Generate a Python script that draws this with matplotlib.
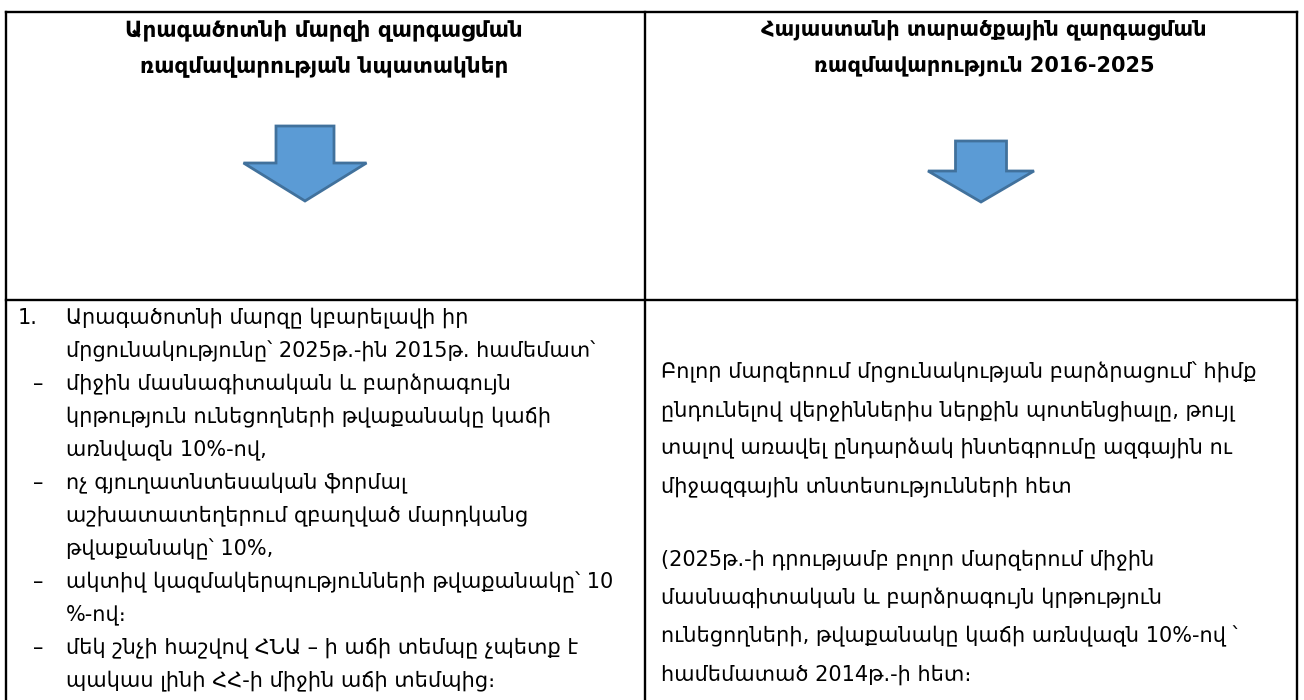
import matplotlib
matplotlib.use("Agg")
import matplotlib.pyplot as plt
from matplotlib.patches import FancyArrow

plt.rcParams['font.family'] = ['DejaVu Sans']

# ---- content ----
left_header = ["Արագածոտնի մարզի զարգացման", "ռազմավարության նպատակներ"]
right_header = ["Հայաստանի տարածքային զարգացման", "ռազմավարություն 2016-2025"]

left_markers = ["1.", "", "–", "", "", "–", "", "", "–", "", "–", ""]
left_lines = [
    "Արագածոտնի մարզը կբարելավի իր",
    "մրցունակությունը՝ 2025թ.-ին 2015թ. համեմատ՝",
    "միջին մասնագիտական և բարձրագույն",
    "կրթություն ունեցողների թվաքանակը կաճի",
    "առնվազն 10%-ով,",
    "ոչ գյուղատնտեսական ֆորմալ",
    "աշխատատեղերում զբաղված մարդկանց",
    "թվաքանակը՝ 10%,",
    "ակտիվ կազմակերպությունների թվաքանակը՝ 10",
    "%-ով։",
    "մեկ շնչի հաշվով ՀՆԱ – ի աճի տեմպը չպետք է",
    "պակաս լինի ՀՀ-ի միջին աճի տեմպից։",
]

right_par1 = [
    "Բոլոր մարզերում մրցունակության բարձրացում՝ հիմք",
    "ընդունելով վերջիններիս ներքին պոտենցիալը, թույլ",
    "տալով առավել ընդարձակ ինտեգրումը ազգային ու",
    "միջազգային տնտեսությունների հետ",
]
right_par2 = [
    "(2025թ.-ի դրությամբ բոլոր մարզերում միջին",
    "մասնագիտական և բարձրագույն կրթություն",
    "ունեցողների, թվաքանակը կաճի առնվազն 10%-ով ՝",
    "համեմատած 2014թ.-ի հետ։",
]

# ---- layout (pixel coordinates) ----
W, H = 1304, 700
fig = plt.figure(figsize=(W / 100, H / 100), dpi=100)
ax = fig.add_axes([0, 0, 1, 1])
ax.set_xlim(0, W)
ax.set_ylim(H, 0)
ax.axis('off')

x_left, x_mid, x_right = 6, 645, 1297
y_top, y_div = 12, 300
lw = 1.7
ax.plot([x_left, x_right], [y_top, y_top], color='black', lw=lw, solid_capstyle='projecting')
ax.plot([x_left, x_right], [y_div, y_div], color='black', lw=lw)
for x in (x_left, x_mid, x_right):
    ax.plot([x, x], [y_top, H], color='black', lw=lw)

fs = 15
hdr_y = [30, 66]
for y, t in zip(hdr_y, left_header):
    ax.text(324, y, t, ha='center', va='center', fontsize=15.5, fontweight='bold')
for y, t in zip(hdr_y, right_header):
    ax.text(984, y, t, ha='center', va='center', fontsize=15, fontweight='bold')

# arrows
arrow_fc, arrow_ec = '#5B9BD5', '#41719C'
ax.add_patch(FancyArrow(305, 126, 0, 75, width=58, head_width=123, head_length=38,
                        length_includes_head=True, fc=arrow_fc, ec=arrow_ec, lw=2))
ax.add_patch(FancyArrow(981, 141, 0, 61, width=51, head_width=106, head_length=31,
                        length_includes_head=True, fc=arrow_fc, ec=arrow_ec, lw=2))

# left body
ly0, lstep = 318, 33
for i, (m, t) in enumerate(zip(left_markers, left_lines)):
    y = ly0 + i * lstep
    if m == "1.":
        ax.text(18, y, m, ha='left', va='center', fontsize=fs)
    elif m:
        ax.text(33, y, m, ha='left', va='center', fontsize=fs)
    ax.text(66, y, t, ha='left', va='center', fontsize=fs)

# right body
rstep = 38.3
r1 = 372
for i, t in enumerate(right_par1):
    ax.text(661, r1 + i * rstep, t, ha='left', va='center', fontsize=fs)
r2 = 560
for i, t in enumerate(right_par2):
    ax.text(661, r2 + i * rstep, t, ha='left', va='center', fontsize=fs)

fig.savefig("out.png", dpi=100)
